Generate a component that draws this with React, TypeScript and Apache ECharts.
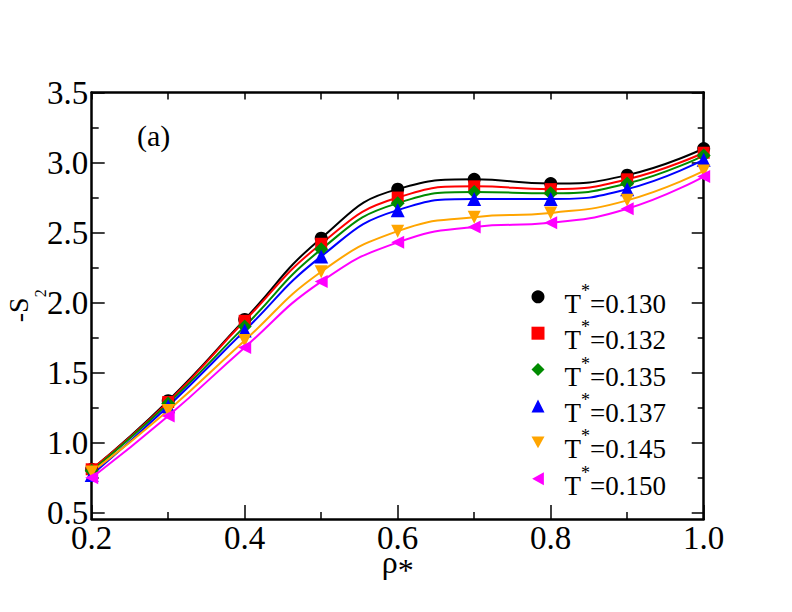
import React, { useEffect, useRef } from "react";
import * as echarts from "echarts";

// ---- data ----
const rho = [0.2, 0.3, 0.4, 0.5, 0.6, 0.7, 0.8, 0.9, 1.0];
const sT130 = [0.81, 1.3, 1.88, 2.46, 2.81, 2.88, 2.85, 2.91, 3.1];
const sT132 = [0.81, 1.29, 1.87, 2.42, 2.75, 2.83, 2.81, 2.88, 3.07];
const sT135 = [0.8, 1.28, 1.83, 2.38, 2.71, 2.79, 2.78, 2.85, 3.05];
const sT137 = [0.77, 1.26, 1.8, 2.33, 2.66, 2.74, 2.74, 2.81, 3.02];
const sT145 = [0.79, 1.23, 1.73, 2.22, 2.51, 2.61, 2.64, 2.73, 2.94];
const sT150 = [0.75, 1.19, 1.68, 2.15, 2.43, 2.54, 2.57, 2.67, 2.9];
const tempLabels = ["0.130", "0.132", "0.135", "0.137", "0.145", "0.150"];
const yMajorTicks = [0.5, 1.0, 1.5, 2.0, 2.5, 3.0, 3.5];
const yMinorTicks = [0.75, 1.25, 1.75, 2.25, 2.75, 3.25];

// ---- styles ----
const seriesValues = [sT130, sT132, sT135, sT137, sT145, sT150];
const colors = ["#000000", "#ff0000", "#008b00", "#0000ff", "#ffa500", "#ff00ff"];
const symbols = [
  "circle",
  "rect",
  "diamond",
  "triangle",
  "path://M0,0L10,0L5,9Z",
  "path://M9,0L9,10L0,5Z",
];
const symbolSizes = [13, 12, 14, 14, 13, 13];
const FONT = "'Liberation Serif', 'Times New Roman', Times, serif";

export default function App() {
  const ref = useRef<HTMLDivElement>(null);

  useEffect(() => {
    if (!ref.current) return;
    const chart = echarts.init(ref.current, null, { renderer: "svg" });
    const names = tempLabels.map((t) => "T*=" + t);

    const series = seriesValues.map((vals, i) => ({
      name: names[i],
      type: "line",
      data: rho.map((x, j) => [x, vals[j]]),
      smooth: 0.5,
      symbol: symbols[i],
      symbolSize: symbolSizes[i],
      showAllSymbol: true,
      clip: false,
      itemStyle: { color: colors[i], opacity: 1 },
      lineStyle: { color: colors[i], width: 2 },
      emphasis: { disabled: true },
    }));

    const axisLine = { show: true, lineStyle: { color: "#000", width: 2.5 } };
    const labelFont = { fontSize: 33, fontFamily: FONT, color: "#000" };

    chart.setOption({
      animation: false,
      backgroundColor: "#ffffff",
      textStyle: { fontFamily: FONT, color: "#000" },
      grid: {
        left: 91.7,
        right: 88.3,
        top: 92.5,
        bottom: 93,
        containLabel: false,
        outerBoundsMode: "none",
      },
      xAxis: [
        {
          type: "value",
          position: "bottom",
          min: 0.2,
          max: 1.0,
          interval: 0.2,
          axisLine,
          axisTick: { show: true, inside: true, length: 14, lineStyle: { color: "#000", width: 1.5 } },
          minorTick: { show: true, splitNumber: 2, length: 7, lineStyle: { color: "#000", width: 1.5 } },
          splitLine: { show: false },
          axisLabel: {
            margin: 6,
            lineHeight: 26,
            ...labelFont,
            formatter: (v: number) => v.toFixed(1),
          },
          name: "{r|ρ}{s|*}",
          nameLocation: "middle",
          nameGap: 35.2,
          nameMoveOverlap: false,
          nameTextStyle: {
            fontFamily: FONT,
            color: "#000",
            rich: {
              r: {
                fontSize: 32,
                fontFamily: FONT,
                color: "#000",
                lineHeight: 24,
                padding: [0, 0, 8.2, 0],
              },
              s: {
                fontSize: 32,
                fontFamily: FONT,
                color: "#000",
                lineHeight: 24,
                padding: [8.2, 0, 0, 0],
              },
            },
          },
        },
        {
          type: "value",
          position: "top",
          min: 0.2,
          max: 1.0,
          interval: 0.1,
          axisLine,
          axisTick: { show: true, inside: true, length: 7, lineStyle: { color: "#000", width: 1.5 } },
          axisLabel: { show: false },
          splitLine: { show: false },
        },
      ],
      yAxis: [
        {
          type: "value",
          position: "left",
          min: 0.455,
          max: 3.5,
          axisLine,
          axisTick: {
            show: true,
            inside: true,
            length: 13,
            customValues: yMajorTicks,
            lineStyle: { color: "#000", width: 1.5 },
          },
          axisLabel: {
            customValues: yMajorTicks,
            margin: 3.5,
            lineHeight: 24,
            ...labelFont,
            formatter: (v: number) => v.toFixed(1),
          },
          splitLine: { show: false },
          name: "{a|-S}{b|2}",
          nameLocation: "middle",
          nameRotate: 90,
          nameGap: 51.1,
          nameMoveOverlap: false,
          nameTextStyle: {
            fontFamily: FONT,
            color: "#000",
            rich: {
              a: {
                fontSize: 28,
                fontFamily: FONT,
                color: "#000",
                lineHeight: 28,
                padding: [0, 0, 16.05, 0],
              },
              b: {
                fontSize: 16,
                fontFamily: FONT,
                color: "#000",
                lineHeight: 16,
                padding: [28.05, 0, 0, 0],
              },
            },
          },
        },
        {
          type: "value",
          position: "left",
          min: 0.455,
          max: 3.5,
          axisLine: { show: false },
          axisTick: {
            show: true,
            inside: true,
            length: 7,
            customValues: yMinorTicks,
            lineStyle: { color: "#000", width: 1.5 },
          },
          axisLabel: { show: false },
          splitLine: { show: false },
        },
        {
          type: "value",
          position: "right",
          min: 0.455,
          max: 3.5,
          axisLine,
          axisTick: {
            show: true,
            inside: true,
            length: 12,
            customValues: yMajorTicks,
            lineStyle: { color: "#000", width: 1.5 },
          },
          axisLabel: { show: false },
          splitLine: { show: false },
        },
        {
          type: "value",
          position: "right",
          min: 0.455,
          max: 3.5,
          axisLine: { show: false },
          axisTick: {
            show: true,
            inside: true,
            length: 6,
            customValues: yMinorTicks,
            lineStyle: { color: "#000", width: 1.5 },
          },
          axisLabel: { show: false },
          splitLine: { show: false },
        },
      ],
      legend: {
        orient: "vertical",
        left: 531.5,
        top: 276.3,
        padding: 0,
        itemGap: -4.6,
        itemWidth: 13,
        itemHeight: 13,
        selectedMode: false,
        data: names.map((n, i) => ({ name: n, icon: symbols[i], itemStyle: { color: colors[i] } })),
        formatter: (name: string) => `{t|T}{s|*}{t|${name.slice(2)}}`,
        textStyle: {
          fontFamily: FONT,
          padding: [0, 0, 0, 15],
          rich: {
            t: {
              fontSize: 27,
              fontFamily: FONT,
              color: "#000",
              lineHeight: 22,
              padding: [14, 0, 0, 0],
            },
            s: {
              fontSize: 18,
              fontFamily: FONT,
              color: "#000",
              lineHeight: 18,
              padding: [0, 0, 12, 0],
            },
          },
        },
      },
      graphic: [
        {
          type: "text",
          x: 137,
          y: 135,
          style: {
            text: "(a)",
            fontSize: 30,
            fontFamily: FONT,
            fill: "#000",
            textAlign: "left",
            textVerticalAlign: "middle",
          },
        },
      ],
      series,
    });

    return () => chart.dispose();
  }, []);

  return (
    <div
      ref={ref}
      style={{ position: "fixed", left: 0, top: 0, width: 792, height: 612, background: "#fff" }}
    />
  );
}
